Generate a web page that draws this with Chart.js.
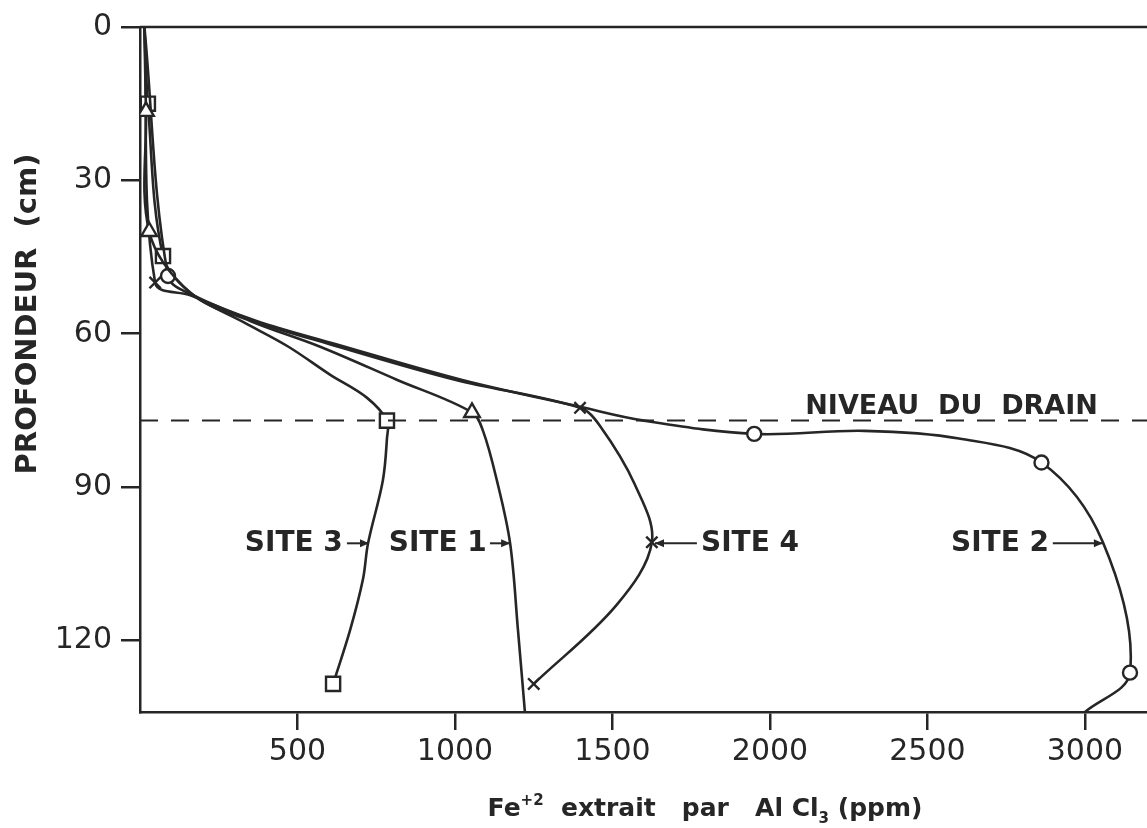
<!DOCTYPE html>
<html>
<head>
<meta charset="utf-8">
<script src="https://cdn.jsdelivr.net/npm/chart.js@4.4.1/dist/chart.umd.min.js"></script>
<style>
  html, body { margin: 0; padding: 0; background: #fff; }
  canvas { display: block; }
</style>
</head>
<body>
<canvas id="profil" width="1147" height="828"></canvas>
<script>
// Fe+2 (ppm) vs depth (cm)
const xTickValues = [500, 1000, 1500, 2000, 2500, 3000];
const yTickValues = [0, 30, 60, 90, 120];

const site1Fe    = [14, 19, 29, 160, 350, 570, 815, 1054, 1089, 1133, 1175, 1200, 1222];
const site1Depth = [0, 16.5, 40, 52, 57.5, 62.5, 69, 75.4, 79, 88.7, 101, 118, 134];
const site1Marks = [1, 2, 7];

const site2Fe    = [14, 89, 170, 370, 620, 1020, 1397, 1600, 1950, 2300, 2600, 2862, 3057, 3143, 3000];
const site2Depth = [0, 48.7, 52.5, 57.5, 62, 69, 74.3, 77, 79.6, 79, 80.5, 85.2, 100.8, 126.3, 134];
const site2Marks = [1, 8, 11, 13];

const site3Fe    = [14, 25, 73, 160, 330, 470, 603, 720, 784, 784, 771, 724, 708, 667, 613];
const site3Depth = [0, 15, 44.8, 52, 57.8, 62.5, 68, 72.5, 77, 80.5, 88.7, 101, 108, 118, 128.5];
const site3Marks = [1, 2, 8, 14];

const site4Fe    = [14, 48, 160, 360, 600, 1000, 1397, 1460, 1571, 1625, 1514, 1250];
const site4Depth = [0, 50, 52.5, 57.5, 62, 69, 74.5, 78, 89.5, 100.8, 113, 128.5];
const site4Marks = [1, 6, 9, 11];

const drainDepth = 77;
const xMax = 3197;
const yMax = 134;

const ink = '#262626';

function points(xs, ys) {
    return xs.map((x, i) => ({ x: x, y: ys[i] }));
}

function siteDataset(label, xs, ys, marks, style, size) {
    const radius = xs.map((x, i) => marks.includes(i) ? size : 0);
    return {
        label: label,
        data: points(xs, ys),
        showLine: true,
        borderColor: ink,
        borderWidth: 2.6,
        tension: 0.35,
        pointStyle: style,
        pointRadius: radius,
        pointBorderWidth: 2.4,
        pointBorderColor: ink,
        pointBackgroundColor: '#fff',
        pointHoverRadius: radius
    };
}

// text and arrows drawn on top of the chart
const annotations = {
    id: 'annotations',
    afterDraw(chart) {
        const ctx = chart.ctx;
        const xs = chart.scales.x;
        const ys = chart.scales.y;
        const area = chart.chartArea;
        ctx.save();

        // top frame line
        ctx.strokeStyle = ink;
        ctx.lineWidth = 2.5;
        ctx.beginPath();
        ctx.moveTo(area.left, area.top);
        ctx.lineTo(area.right, area.top);
        ctx.stroke();

        ctx.fillStyle = ink;
        ctx.textBaseline = 'middle';

        function arrow(fromFe, toFe, depth) {
            const y = ys.getPixelForValue(depth);
            const x0 = xs.getPixelForValue(fromFe);
            const x1 = xs.getPixelForValue(toFe);
            const dir = x1 > x0 ? 1 : -1;
            ctx.lineWidth = 2;
            ctx.beginPath();
            ctx.moveTo(x0, y);
            ctx.lineTo(x1, y);
            ctx.stroke();
            ctx.beginPath();
            ctx.moveTo(x1, y);
            ctx.lineTo(x1 - dir * 9, y - 4);
            ctx.lineTo(x1 - dir * 9, y + 4);
            ctx.closePath();
            ctx.fill();
        }

        ctx.font = 'bold 28px "DejaVu Sans"';
        const labelDepth = 101;
        ctx.textAlign = 'right';
        ctx.fillText('SITE 3', xs.getPixelForValue(644), ys.getPixelForValue(labelDepth));
        arrow(657, 727, labelDepth);
        ctx.fillText('SITE 1', xs.getPixelForValue(1101), ys.getPixelForValue(labelDepth));
        arrow(1111, 1175, labelDepth);
        ctx.fillText('SITE 2', xs.getPixelForValue(2886), ys.getPixelForValue(labelDepth));
        arrow(2898, 3057, labelDepth);
        ctx.textAlign = 'left';
        ctx.fillText('SITE 4', xs.getPixelForValue(1781), ys.getPixelForValue(labelDepth));
        arrow(1768, 1635, labelDepth);

        ctx.font = '600 27px "DejaVu Sans"';
        ctx.textBaseline = 'alphabetic';
        ctx.fillText('NIVEAU  DU  DRAIN', xs.getPixelForValue(2112), ys.getPixelForValue(drainDepth) - 7);

        // y axis title
        ctx.save();
        ctx.translate(28, 314);
        ctx.rotate(-Math.PI / 2);
        ctx.textAlign = 'center';
        ctx.textBaseline = 'middle';
        ctx.font = 'bold 29px "DejaVu Sans"';
        ctx.fillText('PROFONDEUR  (cm)', 0, 0);
        ctx.restore();

        // x axis title with super/subscript
        const parts = [
            ['Fe', 0, 25],
            ['+2', -11, 15],
            ['  extrait   par   Al Cl', 0, 25],
            ['3', 7, 15],
            [' (ppm)', 0, 25]
        ];
        let total = 0;
        parts.forEach(p => {
            ctx.font = 'bold ' + p[2] + 'px "DejaVu Sans"';
            total += ctx.measureText(p[0]).width;
        });
        let x = 705 - total / 2;
        const base = 816;
        ctx.textAlign = 'left';
        ctx.textBaseline = 'alphabetic';
        parts.forEach(p => {
            ctx.font = 'bold ' + p[2] + 'px "DejaVu Sans"';
            ctx.fillText(p[0], x, base + p[1]);
            x += ctx.measureText(p[0]).width;
        });

        ctx.restore();
    }
};

const ctx = document.getElementById('profil').getContext('2d');

new Chart(ctx, {
    type: 'scatter',
    data: {
        datasets: [
            {
                label: 'Niveau du drain',
                data: [{ x: 0, y: drainDepth }, { x: xMax, y: drainDepth }],
                showLine: true,
                borderColor: ink,
                borderWidth: 2,
                borderDash: [18, 13],
                pointRadius: 0
            },
            siteDataset('Site 1', site1Fe, site1Depth, site1Marks, 'triangle', 9),
            siteDataset('Site 2', site2Fe, site2Depth, site2Marks, 'circle', 7),
            siteDataset('Site 3', site3Fe, site3Depth, site3Marks, 'rect', 10),
            siteDataset('Site 4', site4Fe, site4Depth, site4Marks, 'crossRot', 8)
        ]
    },
    options: {
        responsive: false,
        animation: false,
        layout: { autoPadding: false, padding: { top: 25, right: 0, left: 0, bottom: 0 } },
        plugins: {
            legend: { display: false },
            tooltip: { enabled: false }
        },
        scales: {
            x: {
                type: 'linear',
                min: 0,
                max: xMax,
                afterBuildTicks: scale => { scale.ticks = xTickValues.map(v => ({ value: v })); },
                afterFit: scale => { scale.height = 116; },
                ticks: {
                    color: ink,
                    font: { family: 'DejaVu Sans', size: 30 },
                    padding: 4,
                    maxRotation: 0,
                    callback: v => String(v)
                },
                grid: {
                    drawOnChartArea: false,
                    drawTicks: true,
                    tickLength: 18,
                    color: ink,
                    lineWidth: 2.5
                },
                border: { display: true, color: ink, width: 2.5 }
            },
            y: {
                reverse: true,
                min: 0,
                max: yMax,
                afterBuildTicks: scale => { scale.ticks = yTickValues.map(v => ({ value: v })); },
                afterFit: scale => { scale.width = 140; },
                ticks: {
                    color: ink,
                    font: { family: 'DejaVu Sans', size: 30 },
                    padding: 9,
                    callback: v => String(v)
                },
                grid: {
                    drawOnChartArea: false,
                    drawTicks: true,
                    tickLength: 19,
                    color: ink,
                    lineWidth: 2.5
                },
                border: { display: true, color: ink, width: 2.5 }
            }
        }
    },
    plugins: [annotations]
});
</script>
</body>
</html>
